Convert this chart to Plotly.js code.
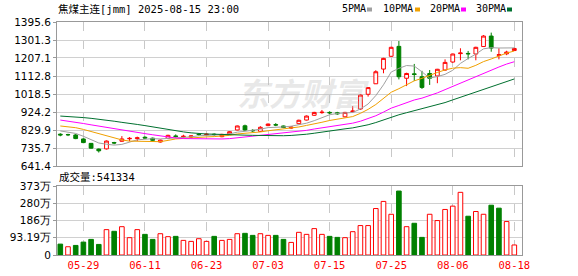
<!DOCTYPE html>
<html><head><meta charset="utf-8">
<script src="https://cdn.plot.ly/plotly-3.0.1.min.js"></script>
<style>html,body{margin:0;padding:0;background:#fff;}#chart{width:578px;height:276px;}</style>
</head><body><div id="chart"></div>
<script>
const dates = ['05-26','05-27','05-28','05-29','05-30','06-03','06-04','06-05','06-06','06-09','06-10','06-11','06-12','06-13','06-16','06-17','06-18','06-19','06-20','06-23','06-24','06-25','06-26','06-27','06-30','07-01','07-02','07-03','07-04','07-07','07-08','07-09','07-10','07-11','07-14','07-15','07-16','07-17','07-18','07-21','07-22','07-23','07-24','07-25','07-28','07-29','07-30','07-31','08-01','08-04','08-05','08-06','08-07','08-08','08-11','08-12','08-13','08-14','08-15','08-18'];
const open  = [808,806,804,783,760,730,731,764,771,784,785,792,787,767,786,799,794,793,808,805,808,795,809,830,852,828,823,853,858,851,840,863,882,907,921,922,920,899,926,940,1017,1072,1149,1216,1268,1101,1124,1109,1126,1113,1144,1186,1230,1231,1228,1267,1322,1221,1229,1246];
const high  = [813,810,809,786,762,733,775,768,798,793,795,797,790,780,805,807,805,802,814,812,812,810,824,853,858,834,850,864,866,853,850,884,906,925,935,928,925,925,955,1018,1055,1143,1208,1266,1296,1130,1176,1140,1144,1150,1200,1230,1258,1244,1266,1327,1340,1258,1245,1260];
const low   = [797,798,782,761,732,712,728,755,768,771,772,784,772,764,782,790,788,788,800,800,800,792,806,828,826,820,820,850,850,840,835,860,880,904,915,913,910,896,922,935,1005,1071,1127,1212,1095,1060,1087,1045,1066,1075,1140,1182,1195,1200,1195,1265,1240,1200,1222,1244];
const close = [804,805,785,764,735,721,772,762,783,786,789,788,776,777,802,796,797,799,806,808,806,807,821,851,830,826,844,861,856,843,845,881,903,922,923,920,915,922,929,1013,1052,1135,1205,1263,1109,1126,1121,1053,1101,1148,1184,1228,1233,1229,1263,1322,1259,1224,1238,1257];
const volume = [588000,446000,517000,697000,843000,571000,1370000,1280000,1530000,936000,1370000,1115000,843000,1150000,990000,1007000,790000,735000,880000,735000,1007000,790000,843000,1150000,1170000,1060000,1150000,1060000,1060000,843000,680000,1224000,1115000,1425000,1115000,1007000,952000,936000,1260000,1590000,1590000,2510000,2895000,2200000,3455000,1530000,1714000,952000,2200000,1860000,2460000,2640000,3385000,2095000,2350000,2200000,2690000,2530000,1807000,541334];
const volUp = [0,1,0,0,0,0,1,0,1,1,1,0,0,1,1,0,1,1,1,1,0,1,1,1,0,0,1,1,0,0,1,1,1,1,1,0,0,1,1,1,1,1,1,1,0,1,0,0,1,1,1,1,1,0,1,1,0,0,1,1];
const ma5  = [825,820,812,797,778.6,762,755.4,750.8,754.6,764.8,778.4,781.6,784.4,783.2,786.4,787.8,789.6,794.2,800,801.2,803.2,805.2,809.6,818.6,823,827,834.4,842.4,843.4,846,849.8,857.2,865.6,878.8,894.8,909.8,916.6,920.4,921.8,939.8,966.2,1010.2,1066.8,1133.6,1152.8,1167.6,1164.8,1134.4,1102,1109.8,1121.4,1142.8,1178.8,1204.4,1227.4,1255,1261.2,1259.4,1261.2,1260];
const ma10 = [851,847,842,833,822,808,797,786,778,771.7,770.2,768.5,767.6,768.9,775.6,783.1,785.6,789.3,791.6,793.8,795.5,797.4,801.9,809.3,812.1,815.1,819.8,826,831,834.5,838.4,845.8,854,861.1,870.4,879.8,886.9,893,900.3,917.3,938,963.4,993.6,1027.7,1046.3,1066.9,1087.5,1100.6,1117.8,1131.3,1144.5,1153.8,1156.6,1153.2,1168.6,1188.2,1202,1219.1,1232.8,1243.7];
const ma20 = [882,877,871,864,857,850,842,836,829,823,818,811,805,799,792,788,785,784,783,782.8,782.9,783,784.8,789.1,793.9,799.1,802.7,807.7,811.3,814.2,817,821.6,828,835.2,841.3,847.5,853.4,859.5,865.7,875.9,888.2,904.6,923.8,944.4,958.4,973.4,987.2,996.8,1009.1,1024.3,1041.3,1058.6,1075.1,1090.5,1107.5,1127.6,1144.8,1159.9,1175.3,1187.5];
const ma30 = [903,901,898,895,891,887,882,876,870,866,859,853,846,841,835,826,820,815,811,809,808,806,805,804,803,802,801,801,800,800,801.4,803.9,807.8,813.1,819.4,826,830.8,836.1,841,848.5,857.3,868.9,883.2,899.4,909.6,920.6,931.4,939.9,949.7,961,973.6,987.7,1001.4,1014,1028.4,1045,1058.8,1070.9,1083.6,1097.4];
const priceTicks = [641.4,735.7,829.9,924.2,1018.5,1112.8,1207.1,1301.3,1395.6];
const volTicks = [0,931900,1863800,2795700,3727600];
const volTickText = ['0','93.19万','186万','280万','373万'];
const dateTicks = ['05-29','06-11','06-23','07-03','07-15','07-25','08-06','08-18'];
const titleText = '焦煤主连[jmm] 2025-08-15 23:00';
const volLabel = '成交量';
const maNames = ['5PMA','10PMA','20PMA','30PMA'];
const maColors = ['#a0a0a0','#f0a000','#ff00ff','#00702f'];
const maData = [ma5, ma10, ma20, ma30];

// pixel helpers for decorations
const PL=57, PR=522, PT=22, PB=255;
const px = v => (v-PL)/(PR-PL);
const py = v => (PB-v)/(PB-PT);

const RED='#ff0000', GREEN='#008000';
const traces = [];
traces.push({type:'candlestick', x:dates, open:open, high:high, low:low, close:close,
  xaxis:'x', yaxis:'y', whiskerwidth:0, hoverinfo:'skip', showlegend:false,
  increasing:{line:{color:RED,width:1}, fillcolor:'#ffffff'},
  decreasing:{line:{color:GREEN,width:1}, fillcolor:GREEN}});
maData.forEach((d,i)=>traces.push({type:'scatter', mode:'lines', x:dates, y:d, xaxis:'x', yaxis:'y',
  line:{color:maColors[i], width:1}, hoverinfo:'skip', showlegend:false}));
traces.push({type:'bar', x:dates, y:volume, xaxis:'x2', yaxis:'y2', width:0.6, hoverinfo:'skip', showlegend:false,
  marker:{color:volUp.map(u=>u?'#ffffff':GREEN), line:{color:volUp.map(u=>u?RED:GREEN), width:1}}});

const tickFont = {family:'DejaVu Sans, Liberation Sans, sans-serif', size:10.5, color:'#000'};
const monoFont = {family:'DejaVu Sans Mono, Noto Sans CJK SC, monospace', size:10.5, color:'#000'};
const annotations = [
  {xref:'paper', yref:'paper', x:px(56), y:py(9), xanchor:'left', yanchor:'middle', showarrow:false, text:titleText, font:monoFont},
  {xref:'paper', yref:'paper', x:px(57), y:py(177), xanchor:'left', yanchor:'middle', showarrow:false,
   text:volLabel + ':' + volume[volume.length-1], font:monoFont},
  {xref:'paper', yref:'paper', x:px(303), y:py(92), xanchor:'center', yanchor:'middle', showarrow:false,
   text:'东方财富', font:{family:'Noto Sans CJK SC', size:32, color:'rgba(190,190,190,0.35)', weight:700, style:'italic'}}
];
const legX = [340, 381, 428, 474];
const sqX = [367, 415, 461, 507];
const shapes = [];
maNames.forEach((n,i)=>{
  annotations.push({xref:'paper', yref:'paper', x:px(legX[i]), y:py(9), xanchor:'left', yanchor:'middle', showarrow:false,
    text:n, font:{family:'DejaVu Sans Mono, monospace', size:10, color:'#000'}});
  shapes.push({type:'rect', xref:'paper', yref:'paper', x0:px(sqX[i]), x1:px(sqX[i]+5), y0:py(11.5), y1:py(7.5),
    fillcolor:maColors[i], line:{width:0}});
});

const layout = {
  width:578, height:276, margin:{l:57, r:56, t:22, b:21}, paper_bgcolor:'#fff', plot_bgcolor:'#fff',
  showlegend:false, bargap:0.4, annotations:annotations, shapes:shapes,
  xaxis:{type:'category', domain:[0,1], anchor:'y', range:[-0.43,60], showticklabels:false,
    tickmode:'array', tickvals:dateTicks, showgrid:true, gridcolor:'#c8c8c8', griddash:'dash', gridwidth:1,
    showline:true, mirror:true, linecolor:'#999', linewidth:1, ticks:'', zeroline:false, rangeslider:{visible:false}, fixedrange:true},
  yaxis:{domain:[py(166),1], range:[641.4,1395.6], tickmode:'array', tickvals:priceTicks, ticktext:priceTicks.map(v=>v.toFixed(1)),
    showgrid:true, gridcolor:'#d0d0d0', gridwidth:1, showline:true, mirror:true, linecolor:'#999', linewidth:1,
    ticks:'outside', ticklen:3, tickcolor:'#999', tickfont:tickFont, zeroline:false, fixedrange:true},
  xaxis2:{type:'category', domain:[0,1], anchor:'y2', matches:'x', range:[-0.43,60], tickmode:'array', tickvals:dateTicks,
    showgrid:true, gridcolor:'#c8c8c8', griddash:'dash', gridwidth:1, showline:true, mirror:true, linecolor:'#999', linewidth:1,
    ticks:'', tickfont:{family:'DejaVu Sans Mono, monospace', size:10.5, color:'#ff0000'}, zeroline:false, fixedrange:true},
  yaxis2:{domain:[0,py(186)], range:[0,3727600], tickmode:'array', tickvals:volTicks, ticktext:volTickText,
    showgrid:true, gridcolor:'#d0d0d0', gridwidth:1, showline:true, mirror:true, linecolor:'#999', linewidth:1,
    ticks:'outside', ticklen:3, tickcolor:'#999', tickfont:tickFont, zeroline:false, fixedrange:true}
};
Plotly.newPlot('chart', traces, layout, {staticPlot:true, displayModeBar:false});
</script></body></html>
